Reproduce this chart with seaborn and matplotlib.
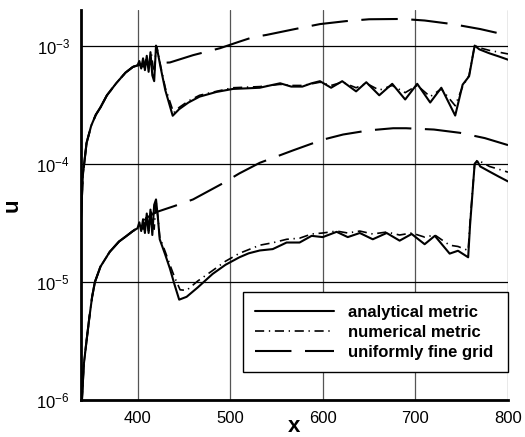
import numpy as np
import pandas as pd
import matplotlib
matplotlib.use("Agg")
import matplotlib.pyplot as plt
import seaborn as sns
from matplotlib.ticker import FixedLocator, MultipleLocator, LogLocator, NullFormatter, FuncFormatter

# ---------------- data ----------------
# upper group (larger amplitude)
x_up_a = [339, 341, 345, 350, 355, 360, 367, 377, 387, 395, 400, 402, 404, 406, 408, 410,
          412, 414, 416, 418, 420, 421, 425, 430, 438, 445, 455, 467, 485, 503, 518, 532,
          543, 554, 566, 578, 588, 597, 609, 621, 636, 647, 661, 675, 689, 702, 716, 728,
          743, 751, 758, 764, 769, 780, 790, 800]
u_up_a = [3.5e-5, 8e-5, 1.5e-4, 2.1e-4, 2.6e-4, 3.0e-4, 3.8e-4, 4.8e-4, 5.9e-4, 6.6e-4, 6.8e-4,
          7.4e-4, 6.4e-4, 7.8e-4, 6.2e-4, 8.2e-4, 6.0e-4, 8.8e-4, 5.6e-4, 5.0e-4, 1.0e-3, 9.5e-4,
          6.5e-4, 4.2e-4, 2.55e-4, 2.9e-4, 3.3e-4, 3.7e-4, 4.05e-4, 4.3e-4, 4.35e-4, 4.4e-4,
          4.6e-4, 4.8e-4, 4.5e-4, 4.5e-4, 4.8e-4, 5.0e-4, 4.4e-4, 5.0e-4, 4.1e-4, 4.9e-4, 3.8e-4,
          4.75e-4, 3.5e-4, 4.75e-4, 3.3e-4, 4.4e-4, 2.56e-4, 4.67e-4, 5.5e-4, 1.0e-3, 9.3e-4,
          8.6e-4, 8.1e-4, 7.6e-4]

x_up_n = [339, 341, 345, 350, 355, 360, 367, 377, 387, 395, 400, 403, 406, 409, 412, 415,
          418, 420, 421, 425, 430, 439, 445, 455, 467, 485, 503, 518, 532, 543, 554, 566,
          578, 588, 597, 609, 621, 636, 647, 661, 675, 689, 702, 716, 728, 743, 751, 758,
          764, 769, 780, 790, 800]
u_up_n = [3.5e-5, 8e-5, 1.5e-4, 2.1e-4, 2.6e-4, 3.0e-4, 3.8e-4, 4.8e-4, 5.9e-4, 6.6e-4, 6.9e-4,
          7.2e-4, 6.6e-4, 7.6e-4, 6.4e-4, 8.5e-4, 5.6e-4, 9.8e-4, 9.6e-4, 6.7e-4, 4.4e-4, 2.7e-4,
          3.0e-4, 3.4e-4, 3.8e-4, 4.1e-4, 4.4e-4, 4.45e-4, 4.5e-4, 4.6e-4, 4.7e-4, 4.6e-4,
          4.6e-4, 4.75e-4, 4.9e-4, 4.6e-4, 4.9e-4, 4.4e-4, 4.8e-4, 4.2e-4, 4.6e-4, 4.0e-4,
          4.6e-4, 3.7e-4, 4.3e-4, 3.1e-4, 4.5e-4, 5.6e-4, 1.0e-3, 9.6e-4, 9.1e-4, 8.8e-4, 8.5e-4]

x_up_f = [339, 341, 345, 350, 355, 360, 367, 377, 387, 395, 400, 410, 420, 435, 460, 489,
          510, 525, 539, 570, 597, 625, 650, 686, 710, 740, 770, 800]
u_up_f = [3.5e-5, 8e-5, 1.5e-4, 2.1e-4, 2.6e-4, 3.0e-4, 3.8e-4, 4.8e-4, 5.9e-4, 6.6e-4, 6.8e-4,
          7.0e-4, 7.1e-4, 7.2e-4, 8.3e-4, 9.5e-4, 1.08e-3, 1.18e-3, 1.23e-3, 1.38e-3, 1.52e-3,
          1.61e-3, 1.67e-3, 1.68e-3, 1.63e-3, 1.52e-3, 1.38e-3, 1.22e-3]

# lower group (smaller amplitude)
x_lo_a = [340, 342, 345, 348, 351, 354, 360, 370, 380, 388, 395, 400, 402, 404, 406, 408, 410,
          412, 414, 416, 418, 420, 422, 424, 430, 435, 440, 445, 453, 465, 481, 495, 510, 520,
          532, 546, 561, 575, 588, 600, 615, 627, 640, 654, 669, 683, 696, 710, 721, 737, 746,
          757, 759, 764, 767, 770, 780, 790, 800]
u_lo_a = [1.0e-6, 2.0e-6, 3.2e-6, 5.0e-6, 7.5e-6, 1.0e-5, 1.35e-5, 1.8e-5, 2.2e-5, 2.45e-5,
          2.7e-5, 2.85e-5, 3.2e-5, 2.7e-5, 3.4e-5, 2.6e-5, 3.8e-5, 2.6e-5, 4.1e-5, 2.5e-5, 4.5e-5,
          5.0e-5, 3.5e-5, 2.3e-5, 1.7e-5, 1.3e-5, 9.5e-6, 7.1e-6, 7.5e-6, 9.0e-6, 1.17e-5, 1.4e-5,
          1.62e-5, 1.75e-5, 1.85e-5, 1.9e-5, 2.16e-5, 2.16e-5, 2.46e-5, 2.4e-5, 2.66e-5, 2.4e-5,
          2.6e-5, 2.3e-5, 2.6e-5, 2.24e-5, 2.55e-5, 2.09e-5, 2.46e-5, 1.74e-5, 1.84e-5, 1.62e-5,
          3.0e-5, 1.0e-4, 1.05e-4, 9.5e-5, 8.6e-5, 7.8e-5, 7.1e-5]

x_lo_n = [340, 342, 345, 348, 351, 354, 360, 370, 380, 388, 395, 400, 403, 406, 409, 412, 415,
          418, 420, 422, 424, 430, 435, 440, 446, 453, 465, 481, 495, 510, 532, 546, 561, 575,
          588, 600, 615, 627, 640, 654, 669, 683, 696, 710, 721, 737, 746, 757, 759, 764, 767,
          780, 790, 800]
u_lo_n = [1.0e-6, 2.0e-6, 3.2e-6, 5.0e-6, 7.5e-6, 1.0e-5, 1.35e-5, 1.8e-5, 2.2e-5, 2.45e-5,
          2.7e-5, 2.9e-5, 3.1e-5, 2.8e-5, 3.5e-5, 2.7e-5, 3.9e-5, 2.8e-5, 4.8e-5, 3.6e-5, 2.4e-5,
          1.8e-5, 1.4e-5, 1.1e-5, 8.6e-6, 8.5e-6, 1.02e-5, 1.25e-5, 1.5e-5, 1.75e-5, 2.05e-5,
          2.15e-5, 2.3e-5, 2.35e-5, 2.55e-5, 2.6e-5, 2.7e-5, 2.6e-5, 2.7e-5, 2.55e-5, 2.65e-5,
          2.5e-5, 2.6e-5, 2.4e-5, 2.5e-5, 2.05e-5, 2.0e-5, 1.85e-5, 3.2e-5, 1.0e-4, 1.08e-4,
          9.5e-5, 9.0e-5, 8.5e-5]

x_lo_f = [340, 342, 345, 348, 351, 354, 360, 370, 380, 388, 395, 400, 410, 420, 440, 460, 490,
          510, 532, 568, 600, 622, 650, 676, 690, 720, 748, 775, 800]
u_lo_f = [1.0e-6, 2.0e-6, 3.2e-6, 5.0e-6, 7.5e-6, 1.0e-5, 1.35e-5, 1.8e-5, 2.2e-5, 2.45e-5,
          2.7e-5, 2.85e-5, 3.5e-5, 3.9e-5, 4.4e-5, 5.0e-5, 6.7e-5, 8.3e-5, 1.02e-4, 1.3e-4,
          1.6e-4, 1.77e-4, 1.92e-4, 2.0e-4, 2.0e-4, 1.95e-4, 1.83e-4, 1.65e-4, 1.44e-4]

legend_labels = ["analytical metric", "numerical metric", "uniformly fine grid"]
x_ticks = [400, 500, 600, 700, 800]
y_ticks = [1e-6, 1e-5, 1e-4, 1e-3]

# ---------------- style ----------------
sns.set_style("white")
plt.rcParams["font.family"] = ["Liberation Sans", "DejaVu Sans"]
plt.rcParams["mathtext.default"] = "regular"
for k in ["text.color", "axes.labelcolor", "xtick.color", "ytick.color"]:
    plt.rcParams[k] = "black"

fig = plt.figure(figsize=(5.25, 4.37), dpi=100)
ax = fig.add_axes([81 / 525, 1 - 400.3 / 437, 427 / 525, 390.3 / 437])

dash_f = (0, (17.5, 6.5))
dash_n = (0, (5.5, 2.8, 0.8, 2.8))

ax.set_yscale("log")

for xs, us, lab in [(x_up_f, u_up_f, legend_labels[2]), (x_lo_f, u_lo_f, None)]:
    sns.lineplot(x=xs, y=us, ax=ax, color="black", lw=1.5, linestyle=dash_f,
                 label=lab, legend=False, sort=False)
for xs, us, lab in [(x_up_n, u_up_n, legend_labels[1]), (x_lo_n, u_lo_n, None)]:
    sns.lineplot(x=xs, y=us, ax=ax, color="black", lw=1.2, linestyle=dash_n,
                 label=lab, legend=False, sort=False)
for xs, us, lab in [(x_up_a, u_up_a, legend_labels[0]), (x_lo_a, u_lo_a, None)]:
    sns.lineplot(x=xs, y=us, ax=ax, color="black", lw=1.5, linestyle="-",
                 label=lab, legend=False, sort=False)

ax.set_xlim(339, 800)
ax.set_ylim(1e-6, 2e-3)

ax.xaxis.set_major_locator(FixedLocator(x_ticks))
ax.xaxis.set_minor_locator(MultipleLocator(20))
ax.yaxis.set_major_locator(FixedLocator(y_ticks))
ax.yaxis.set_minor_locator(LogLocator(base=10, subs=np.arange(2, 10)))
ax.yaxis.set_minor_formatter(NullFormatter())
ax.yaxis.set_major_formatter(FuncFormatter(
    lambda v, p: r"10$^{%d}$" % int(round(np.log10(v)))))

ax.grid(False)
for xv in x_ticks:
    ax.axvline(xv, color="#555555", lw=0.9, zorder=0.5)
for yv in y_ticks:
    ax.axhline(yv, color="black", lw=0.9, zorder=0.5)

for s in ["top", "right"]:
    ax.spines[s].set_visible(False)
for s in ["left", "bottom"]:
    ax.spines[s].set_linewidth(2.0)
    ax.spines[s].set_color("black")

ax.tick_params(axis="both", which="major", direction="in", length=7, width=1.5,
               labelsize=12, pad=8, color="black", labelcolor="black")
ax.tick_params(axis="both", which="minor", direction="in", length=4, width=1.0,
               color="#444444")

ax.set_xlabel("x", fontsize=16, fontweight="bold", color="black")
ax.xaxis.set_label_coords(0.5, -0.081)
ax.xaxis.label.set_va("baseline")
ax.set_ylabel("u", fontsize=16, fontweight="bold", color="black", labelpad=10)

# legend in the order of the reference
handles, labels = ax.get_legend_handles_labels()
order = [labels.index(l) for l in legend_labels]
leg = ax.legend([handles[i] for i in order], [labels[i] for i in order],
                loc="lower left", bbox_to_anchor=(0.379, 0.0725, 0.621, 0.2305),
                mode="expand", frameon=True, fancybox=False, framealpha=1,
                edgecolor="black", prop={"weight": "bold", "size": 12},
                handlelength=4.7, handletextpad=0.85, labelspacing=0.3,
                borderpad=0.75, borderaxespad=0)
leg.get_frame().set_linewidth(1.0)
leg.set_zorder(5)
for t in leg.get_texts():
    t.set_color("black")

fig.savefig("out.png", dpi=100, facecolor="white")
